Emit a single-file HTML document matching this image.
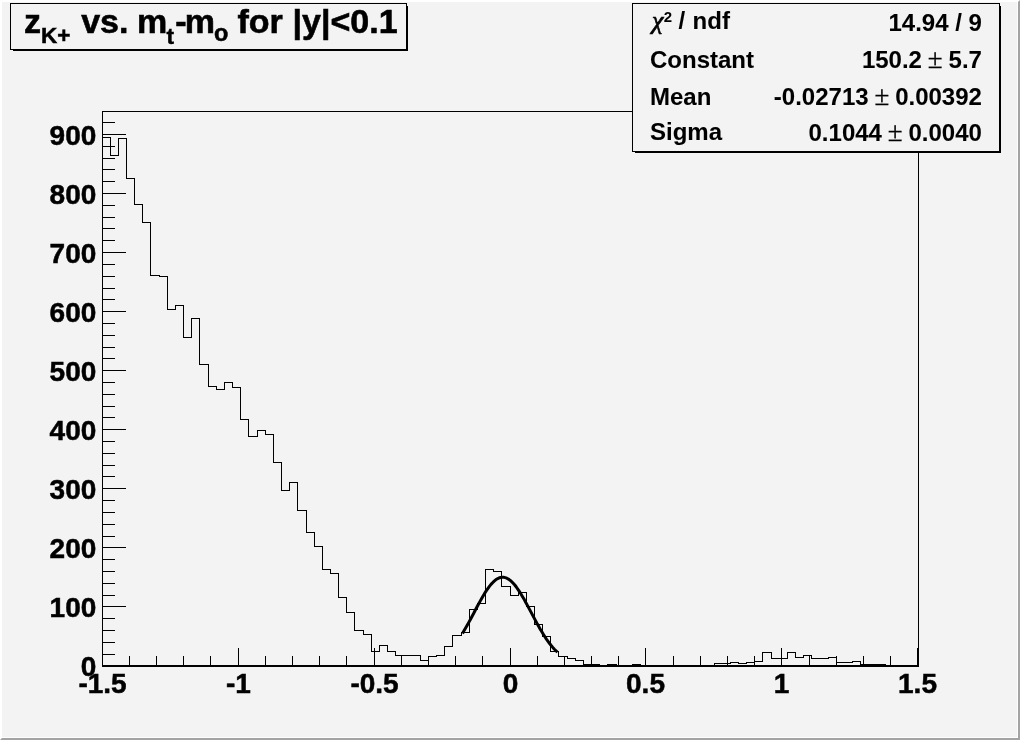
<!DOCTYPE html>
<html><head><meta charset="utf-8"><title>z K+ vs. mt-mo for |y|&lt;0.1</title>
<style>
html,body{margin:0;padding:0;background:#f3f3f3;}
body{width:1020px;height:740px;overflow:hidden;position:relative;font-family:"Liberation Sans",sans-serif;}
svg{position:absolute;left:0;top:0;display:block;will-change:transform;}
.ax text{font-family:"Liberation Sans",sans-serif;font-weight:bold;font-size:28px;fill:#000;stroke:#000;stroke-width:0.5px;}
.ttl text{font-family:"Liberation Sans",sans-serif;font-weight:bold;font-size:34px;fill:#000;stroke:#000;stroke-width:0.6px;}
.ttl .sub{font-size:22.5px;stroke-width:0.5px;}
.st text{font-family:"Liberation Sans",sans-serif;font-weight:bold;font-size:24px;fill:#000;stroke:#000;stroke-width:0.05px;}
</style></head><body>
<svg width="1020" height="740" viewBox="0 0 1020 740">
<rect x="0" y="0" width="1020" height="740" fill="#f3f3f3"/>
<!-- canvas bevel -->
<rect x="1017" y="2" width="1" height="736" fill="#fdfdfd"/>
<rect x="2" y="737" width="1016" height="1" fill="#fdfdfd"/>
<polygon points="0,0 1020,0 1018,2 2,2 2,738 0,740" fill="#ffffff"/>
<polygon points="0,740 2,738 1018,738 1018,2 1020,0 1020,740" fill="#a3a3a3"/>
<g shape-rendering="crispEdges" fill="none" stroke="#000" stroke-width="1">
<!-- frame -->
<rect x="102.5" y="111.5" width="816" height="555"/>
<path d="M102 665.5H919"/>
<path d="M102.5 665.5h23.5M102.5 654.5h12M102.5 642.5h12M102.5 630.5h12M102.5 618.5h12M102.5 606.5h23.5M102.5 595.5h12M102.5 583.5h12M102.5 571.5h12M102.5 559.5h12M102.5 547.5h23.5M102.5 536.5h12M102.5 524.5h12M102.5 512.5h12M102.5 500.5h12M102.5 488.5h23.5M102.5 476.5h12M102.5 465.5h12M102.5 453.5h12M102.5 441.5h12M102.5 429.5h23.5M102.5 417.5h12M102.5 406.5h12M102.5 394.5h12M102.5 382.5h12M102.5 370.5h23.5M102.5 358.5h12M102.5 347.5h12M102.5 335.5h12M102.5 323.5h12M102.5 311.5h23.5M102.5 299.5h12M102.5 288.5h12M102.5 276.5h12M102.5 264.5h12M102.5 252.5h23.5M102.5 240.5h12M102.5 228.5h12M102.5 217.5h12M102.5 205.5h12M102.5 193.5h23.5M102.5 181.5h12M102.5 169.5h12M102.5 158.5h12M102.5 146.5h12M102.5 134.5h23.5M102.5 122.5h12M102.5 666V648M129.5 666V656M156.5 666V656M183.5 666V656M210.5 666V656M238.5 666V648M265.5 666V656M292.5 666V656M319.5 666V656M346.5 666V656M374.5 666V648M401.5 666V656M428.5 666V656M455.5 666V656M482.5 666V656M510.5 666V648M537.5 666V656M564.5 666V656M591.5 666V656M618.5 666V656M645.5 666V648M673.5 666V656M700.5 666V656M727.5 666V656M754.5 666V656M781.5 666V648M809.5 666V656M836.5 666V656M863.5 666V656M890.5 666V656M917.5 666V648"/>
<path d="M102.5 665.5V137.5H110.5V155.5H118.5V138.5H126.5V178.5H134.5V204.5H142.5V222.5H150.5V275.5H159.5V276.5H167.5V309.5H175.5V305.5H183.5V337.5H191.5V318.5H199.5V364.5H208.5V386.5H216.5V389.5H224.5V382.5H232.5V387.5H240.5V419.5H248.5V436.5H257.5V430.5H265.5V434.5H273.5V462.5H281.5V490.5H289.5V482.5H297.5V510.5H306.5V532.5H314.5V546.5H322.5V569.5H330.5V573.5H338.5V597.5H346.5V612.5H354.5V630.5H363.5V634.5H371.5V651.5H379.5V645.5H387.5V651.5H395.5V655.5H403.5V655.5H412.5V655.5H420.5V660.5H428.5V656.5H436.5V655.5H444.5V646.5H452.5V635.5H461.5V632.5H469.5V609.5H477.5V603.5H485.5V569.5H493.5V571.5H501.5V586.5H510.5V595.5H518.5V592.5H526.5V606.5H534.5V624.5H542.5V636.5H550.5V651.5H558.5V656.5H567.5V658.5H575.5V660.5H583.5V664.5H591.5V664.5H599.5V665.5H607.5V664.5H616.5V665.5H624.5V665.5H632.5V664.5H640.5V665.5H648.5V665.5H656.5V665.5H665.5V665.5H673.5V665.5H681.5V665.5H689.5V665.5H697.5V665.5H705.5V665.5H714.5V663.5H722.5V663.5H730.5V662.5H738.5V663.5H746.5V662.5H754.5V661.5H762.5V652.5H771.5V658.5H779.5V658.5H787.5V652.5H795.5V657.5H803.5V655.5H811.5V658.5H820.5V658.5H828.5V657.5H836.5V662.5H844.5V662.5H852.5V661.5H860.5V664.5H869.5V664.5H877.5V664.5H885.5V665.5H893.5V665.5H901.5V665.5H909.5V665.5H918.5V665.5"/>
</g>
<polyline points="462.5,633.4 464.0,630.8 465.6,628.1 467.2,625.3 468.8,622.4 470.4,619.5 472.0,616.5 473.6,613.5 475.1,610.5 476.7,607.5 478.3,604.5 479.9,601.6 481.5,598.8 483.1,596.0 484.6,593.4 486.2,590.9 487.8,588.6 489.4,586.4 491.0,584.4 492.6,582.7 494.2,581.1 495.7,579.8 497.3,578.8 498.9,578.0 500.5,577.5 502.1,577.3 503.7,577.3 505.2,577.6 506.8,578.2 508.4,579.1 510.0,580.2 511.6,581.6 513.2,583.2 514.8,585.0 516.3,587.0 517.9,589.3 519.5,591.7 521.1,594.2 522.7,596.9 524.3,599.6 525.8,602.5 527.4,605.4 529.0,608.4 530.6,611.4 532.2,614.4 533.8,617.4 535.4,620.4 536.9,623.3 538.5,626.1 540.1,628.9 541.7,631.6 543.3,634.2 544.9,636.7 546.4,639.1 548.0,641.3 549.6,643.5 551.2,645.5 552.8,647.4 554.4,649.2 556.0,650.8 557.5,652.3" fill="none" stroke="#000" stroke-width="3" stroke-linejoin="round"/>
<g class="ax"><text x="96.3" y="676" text-anchor="end">0</text><text x="96.3" y="617" text-anchor="end">100</text><text x="96.3" y="558" text-anchor="end">200</text><text x="96.3" y="499" text-anchor="end">300</text><text x="96.3" y="440" text-anchor="end">400</text><text x="96.3" y="381" text-anchor="end">500</text><text x="96.3" y="322" text-anchor="end">600</text><text x="96.3" y="263" text-anchor="end">700</text><text x="96.3" y="204" text-anchor="end">800</text><text x="96.3" y="145" text-anchor="end">900</text><text x="102.5" y="693" text-anchor="middle">-1.5</text><text x="238.5" y="693" text-anchor="middle">-1</text><text x="374.5" y="693" text-anchor="middle">-0.5</text><text x="510.5" y="693" text-anchor="middle">0</text><text x="645.5" y="693" text-anchor="middle">0.5</text><text x="781.5" y="693" text-anchor="middle">1</text><text x="917.5" y="693" text-anchor="middle">1.5</text></g>
<!-- title box -->
<g shape-rendering="crispEdges">
<rect x="13" y="6" width="395" height="45" fill="#000"/>
<rect x="10.5" y="3.5" width="396" height="46" fill="#f3f3f3" stroke="#000"/>
</g>
<g class="ttl">
<text x="24" y="33">z</text>
<text class="sub" x="41" y="42.5">K+</text>
<text x="81.2" y="33">vs.</text>
<text x="137" y="33">m</text>
<text class="sub" x="166.5" y="43.5">t</text>
<text x="175.2" y="33">-</text>
<text x="184.8" y="33">m</text>
<text class="sub" x="214" y="40.5" style="font-size:23.5px">o</text>
<text x="237.5" y="33">for</text>
<text x="292.5" y="33">|y|&lt;0.1</text>
</g>
<!-- stats box -->
<g shape-rendering="crispEdges">
<rect x="635" y="6" width="366" height="147" fill="#000"/>
<rect x="632.5" y="3.5" width="367" height="148" fill="#f3f3f3" stroke="#000"/>
</g>
<g class="st">
<text x="652" y="28.5" style="font-family:'Liberation Serif',serif;font-style:italic;font-weight:normal;font-size:26px;stroke-width:0.7px">χ</text>
<text x="663.8" y="22" style="font-size:15px;stroke-width:0px">2</text>
<text x="678.5" y="29">/</text>
<text x="692.6" y="29">ndf</text>
<text x="981.9" y="30.5" text-anchor="end">14.94 / 9</text>
<text x="650" y="67.5">Constant</text>
<text x="981.9" y="67.5" text-anchor="end">150.2 <tspan dx="-0.8" style="font-family:'Liberation Serif',serif;font-weight:normal;font-size:27px;stroke-width:0.3px">±</tspan><tspan dx="-0.8"> 5.7</tspan></text>
<text x="650" y="104.5">Mean</text>
<text x="981.9" y="104.5" text-anchor="end">-0.02713 <tspan dx="-0.8" style="font-family:'Liberation Serif',serif;font-weight:normal;font-size:27px;stroke-width:0.3px">±</tspan><tspan dx="-0.8"> 0.00392</tspan></text>
<text x="650" y="140">Sigma</text>
<text x="981.9" y="141" text-anchor="end">0.1044 <tspan dx="-0.8" style="font-family:'Liberation Serif',serif;font-weight:normal;font-size:27px;stroke-width:0.3px">±</tspan><tspan dx="-0.8"> 0.0040</tspan></text>
</g>
</svg>
</body></html>
